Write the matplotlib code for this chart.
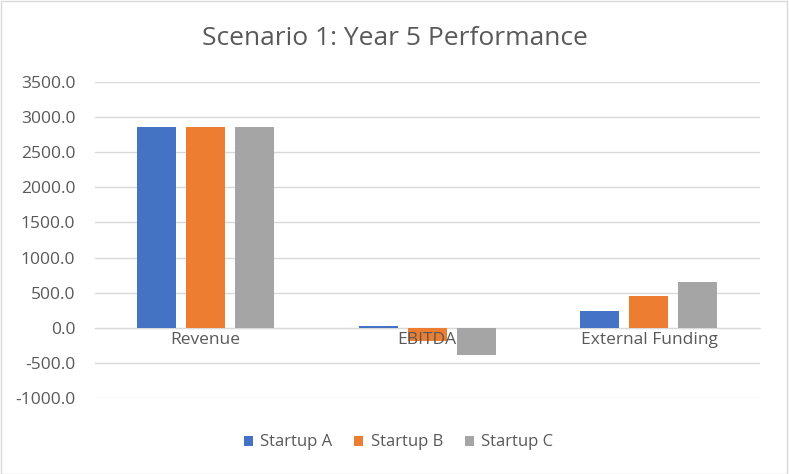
import matplotlib
matplotlib.use("Agg")
import matplotlib.pyplot as plt
import numpy as np
from matplotlib.patches import Rectangle

plt.rcParams['font.family'] = ['Open Sans', 'DejaVu Sans']

categories = ["Revenue", "EBITDA", "External Funding"]
series_names = ["Startup A", "Startup B", "Startup C"]
startup_a = [2860, 30, 245]
startup_b = [2860, -182, 458]
startup_c = [2860, -385, 657]
colors = ["#4472C4", "#ED7D31", "#A5A5A5"]

fig = plt.figure(figsize=(7.89, 4.74), dpi=100)
ax = fig.add_axes([0.120, 0.1597, 0.843, 0.668])

x = np.arange(len(categories))
w = 0.176
step = 0.221
for i, (vals, name) in enumerate(zip([startup_a, startup_b, startup_c], series_names)):
    ax.bar(x + (i - 1) * step, vals, width=w, color=colors[i], label=name, zorder=3)

ax.set_xlim(-0.5, 2.5)
ax.set_ylim(-1000, 3500)
ax.set_yticks(np.arange(-1000, 3501, 500))
ax.set_yticklabels(["%.1f" % v for v in np.arange(-1000, 3501, 500)])
ax.yaxis.grid(True, color="#D9D9D9", linewidth=1, zorder=0)
ax.tick_params(axis="y", length=0, labelsize=12.5, labelcolor="#595959", pad=14)

ax.spines["bottom"].set_position(("data", 0))
ax.spines["bottom"].set_color("#D9D9D9")
ax.spines["bottom"].set_zorder(1)
for s in ["top", "right", "left"]:
    ax.spines[s].set_visible(False)
ax.set_xticks(x)
ax.set_xticklabels(categories)
ax.tick_params(axis="x", length=0, labelsize=12.5, labelcolor="#595959", pad=3)
ax.xaxis.set_zorder(5)

fig.suptitle("Scenario 1: Year 5 Performance", y=0.945, fontsize=19, color="#595959")

leg = fig.legend(loc="lower center", bbox_to_anchor=(0.505, 0.018), ncol=3, frameon=False,
                 fontsize=12, handlelength=0.55, handleheight=0.55, handletextpad=0.45,
                 columnspacing=1.3)
for t in leg.get_texts():
    t.set_color("#595959")

fig.patches.append(Rectangle((0.001, 0.001), 0.997, 0.997, transform=fig.transFigure,
                             fill=False, edgecolor="#D9D9D9", linewidth=1))

fig.savefig("out.png", dpi=100)
